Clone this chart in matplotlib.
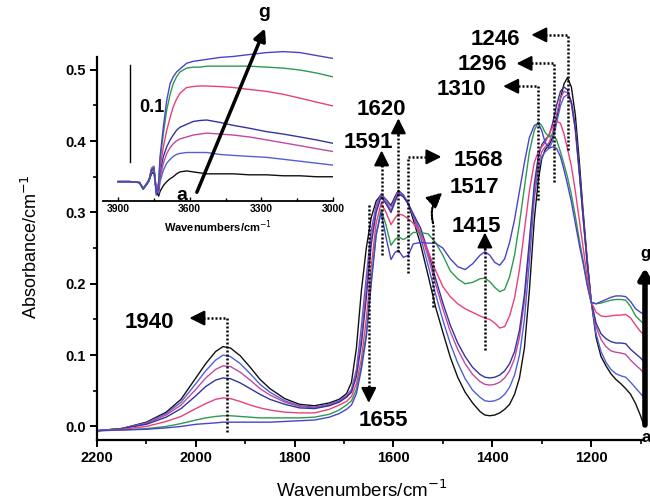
import matplotlib
matplotlib.use('Agg')
import matplotlib.pyplot as plt
from matplotlib.ticker import MultipleLocator, FormatStrFormatter

plt.rcParams['font.family'] = ['Liberation Sans', 'DejaVu Sans']

# ---------------- main spectra data ----------------
wn = [2200, 2150, 2100, 2060, 2030, 2000, 1980, 1960, 1945, 1930,
      1910, 1890, 1870, 1850, 1820, 1790, 1760, 1730, 1710, 1695,
      1685, 1675, 1665, 1655, 1645, 1635, 1625, 1615, 1605, 1597,
      1590, 1580, 1570, 1560, 1545, 1530, 1515, 1500, 1485, 1470,
      1455, 1440, 1425, 1415, 1405, 1395, 1385, 1375, 1365, 1355,
      1345, 1335, 1325, 1315, 1307, 1300, 1293, 1285, 1278, 1270,
      1262, 1255, 1248, 1240, 1232, 1224, 1216, 1208, 1200, 1190,
      1180, 1170, 1160, 1150, 1140, 1130, 1120, 1110, 1100, 1095]

spec_a = [-.006, -.003, .006, .020, .038, .068, .088, .105, .112, .110,
          .099, .083, .066, .053, .039, .031, .029, .033, .038, .046,
          .062, .110, .190, .250, .293, .316, .325, .318, .310, .322,
          .331, .324, .312, .290, .255, .212, .168, .132, .097, .069,
          .048, .033, .021, .016, .015, .016, .019, .024, .031, .045,
          .068, .110, .190, .290, .345, .375, .388, .395, .405, .430,
          .460, .480, .489, .476, .437, .372, .300, .235, .177, .125,
          .098, .085, .074, .066, .060, .053, .045, .032, .015, .005]
spec_b = [-.006, -.003, .005, .018, .034, .060, .078, .093, .100, .098,
          .088, .074, .059, .048, .036, .029, .027, .031, .036, .043,
          .052, .080, .140, .210, .275, .310, .326, .318, .308, .320,
          .330, .325, .313, .295, .265, .226, .186, .149, .116, .089,
          .067, .051, .041, .036, .035, .036, .039, .045, .055, .072,
          .100, .150, .230, .320, .360, .378, .385, .390, .400, .425,
          .450, .462, .465, .455, .420, .360, .295, .230, .176, .130,
          .105, .090, .080, .074, .071, .069, .062, .054, .046, .042]
spec_c = [-.006, -.003, .004, .016, .030, .052, .068, .080, .085, .084,
          .076, .065, .053, .044, .034, .028, .026, .030, .035, .042,
          .050, .075, .125, .195, .265, .305, .324, .315, .303, .318,
          .328, .322, .312, .296, .272, .238, .200, .165, .133, .108,
          .088, .073, .063, .059, .058, .059, .062, .068, .078, .095,
          .125, .175, .250, .330, .368, .385, .392, .398, .412, .438,
          .460, .470, .468, .452, .415, .355, .290, .228, .176, .140,
          .122, .112, .106, .104, .103, .101, .093, .086, .080, .076]
spec_d = [-.006, -.003, .003, .013, .025, .043, .056, .065, .068, .067,
          .061, .053, .045, .038, .031, .026, .025, .029, .034, .041,
          .048, .070, .115, .180, .255, .300, .322, .312, .300, .315,
          .326, .322, .312, .298, .278, .245, .208, .173, .142, .117,
          .098, .083, .073, .069, .068, .069, .072, .078, .088, .105,
          .135, .185, .260, .340, .378, .395, .402, .408, .425, .450,
          .470, .476, .472, .455, .418, .358, .292, .230, .176, .145,
          .130, .123, .119, .117, .117, .116, .108, .102, .096, .092]
spec_e = [-.006, -.004, .000, .007, .014, .025, .032, .038, .040, .039,
          .035, .030, .026, .023, .020, .019, .019, .024, .030, .035,
          .042, .060, .095, .150, .225, .285, .313, .300, .283, .292,
          .298, .296, .291, .285, .270, .246, .219, .196, .182, .172,
          .165, .160, .155, .152, .150, .145, .138, .140, .155, .180,
          .220, .275, .330, .370, .385, .392, .398, .410, .420, .428,
          .425, .410, .390, .365, .330, .290, .250, .210, .175, .160,
          .155, .154, .155, .156, .156, .157, .152, .142, .133, .130]
spec_f = [-.006, -.005, -.003, .000, .004, .009, .012, .014, .015, .015,
          .014, .013, .012, .012, .012, .012, .013, .017, .023, .030,
          .036, .052, .085, .130, .205, .270, .304, .282, .254, .262,
          .266, .262, .266, .272, .272, .270, .258, .240, .218, .207,
          .200, .202, .207, .208, .203, .195, .189, .192, .210, .240,
          .285, .335, .385, .415, .427, .422, .412, .406, .409, .402,
          .385, .368, .350, .325, .295, .262, .232, .200, .174, .172,
          .173, .175, .177, .178, .178, .177, .168, .155, .148, .145]
spec_g = [-.006, -.005, -.004, -.002, .000, .003, .004, .005, .006, .006,
          .006, .006, .006, .006, .007, .008, .009, .013, .018, .024,
          .030, .046, .080, .125, .200, .268, .300, .265, .234, .244,
          .247, .237, .240, .256, .258, .257, .257, .250, .235, .224,
          .220, .228, .240, .245, .240, .230, .226, .235, .258, .290,
          .330, .370, .405, .422, .425, .415, .398, .390, .392, .390,
          .378, .360, .340, .315, .285, .255, .228, .198, .174, .172,
          .175, .178, .181, .183, .183, .182, .175, .165, .160, .158]

# ---------------- inset (OH region) data ----------------
wn_in = [3900, 3850, 3810, 3795, 3780, 3770, 3760, 3750, 3740, 3730,
         3724, 3710, 3696, 3682, 3669, 3655, 3641, 3613, 3585, 3557,
         3529, 3473, 3418, 3350, 3278, 3208, 3138, 3070, 3000]
in_a = [.020, .020, .019, .013, .017, .021, .028, .030, .010, .005,
        .010, .016, .020, .023, .025, .028, .030, .031, .030, .029,
        .028, .028, .028, .027, .027, .026, .026, .025, .025]
in_b = [.020, .020, .019, .012, .018, .022, .030, .033, .012, .008,
        .020, .032, .039, .043, .046, .048, .049, .050, .050, .050,
        .050, .048, .047, .046, .045, .043, .041, .039, .037]
in_c = [.020, .020, .019, .013, .018, .022, .031, .035, .013, .010,
        .024, .039, .049, .055, .059, .062, .064, .066, .068, .069,
        .070, .069, .068, .066, .063, .060, .057, .054, .051]
in_d = [.020, .020, .019, .012, .017, .021, .032, .034, .010, .012,
        .030, .046, .056, .063, .068, .073, .076, .079, .082, .083,
        .0835, .081, .078, .075, .0715, .069, .066, .063, .0595]
in_e = [.020, .020, .019, .013, .018, .022, .034, .036, .009, .015,
        .035, .056, .073, .086, .097, .105, .111, .117, .118, .1186,
        .1185, .118, .117, .115, .113, .110, .106, .102, .098]
in_f = [.020, .020, .019, .012, .017, .021, .033, .035, .008, .018,
        .042, .070, .094, .110, .121, .128, .133, .137, .138, .138,
        .139, .139, .139, .139, .138, .137, .135, .132, .128]
in_g = [.020, .020, .019, .013, .018, .022, .032, .034, .006, .020,
        .046, .077, .104, .121, .128, .133, .136, .142, .144, .145,
        .146, .148, .149, .151, .153, .154, .153, .150, .147]

colors = ['#111111', '#5060d8', '#c04aa0', '#34349e', '#e8407c', '#2e9a50', '#4a44c8']
main_specs = [spec_a, spec_b, spec_c, spec_d, spec_e, spec_f, spec_g]
inset_specs = [in_a, in_b, in_c, in_d, in_e, in_f, in_g]

W, H = 650, 504
fig = plt.figure(figsize=(6.5, 5.04), dpi=100)
ax = fig.add_axes([97 / W, 64 / H, 547 / W, 383 / H])

for s, c in zip(main_specs, colors):
    ax.plot(wn, s, color=c, lw=1.0)

ax.set_xlim(2200, 1093)
ax.set_ylim(-0.019, 0.518)
for sp in ['top', 'right']:
    ax.spines[sp].set_visible(False)
for sp in ['left', 'bottom']:
    ax.spines[sp].set_linewidth(1.6)
ax.xaxis.set_major_locator(MultipleLocator(200))
ax.xaxis.set_minor_locator(MultipleLocator(100))
ax.yaxis.set_major_locator(MultipleLocator(0.1))
ax.yaxis.set_minor_locator(MultipleLocator(0.05))
ax.yaxis.set_major_formatter(FormatStrFormatter('%.1f'))
ax.tick_params(which='major', direction='out', length=5, width=1.4, labelsize=10.5, pad=3)
ax.tick_params(which='minor', direction='out', length=3, width=1.2)
for lab in ax.get_xticklabels() + ax.get_yticklabels():
    lab.set_fontweight('bold')

fig.text(31 / W, 1 - 247 / H, 'Absorbance/cm$^{-1}$', rotation=90, ha='center', va='center', fontsize=13)
fig.text(362 / W, 1 - 490 / H, 'Wavenumbers/cm$^{-1}$', ha='center', va='center', fontsize=13.5)

# ---------------- annotations ----------------
DOT = dict(color='k', lw=1.8, ls=(0, (0.8, 0.8)), clip_on=False)
FS = 16


def head(axis, x0, y0, x1, y1, ms=13):
    axis.annotate('', xy=(x1, y1), xytext=(x0, y0),
                  arrowprops=dict(arrowstyle='-|>,head_length=0.7,head_width=0.35',
                                  color='k', lw=1.5, shrinkA=0, shrinkB=0, mutation_scale=ms),
                  annotation_clip=False)


def label(axis, x, y, t, fs=FS):
    axis.text(x, y, t, ha='center', va='center', fontsize=fs, fontweight='bold', clip_on=False)

# 1940
ax.plot([1937, 1937, 2000], [-0.008, 0.152, 0.152], **DOT)
head(ax, 1995, 0.152, 2013, 0.152)
label(ax, 2093, 0.146, '1940')
# 1655
ax.plot([1650, 1650], [0.31, 0.052], **DOT)
head(ax, 1650, 0.055, 1650, 0.033)
label(ax, 1621, 0.008, '1655')
# 1591 (arrow at ~1624)
ax.plot([1624, 1624], [0.24, 0.37], **DOT)
head(ax, 1624, 0.365, 1624, 0.387)
label(ax, 1650, 0.398, '1591')
# 1620 (arrow at ~1590)
ax.plot([1590, 1590], [0.245, 0.41], **DOT)
head(ax, 1590, 0.408, 1590, 0.432)
label(ax, 1625, 0.444, '1620')
# 1568
ax.plot([1570, 1570, 1520], [0.215, 0.378, 0.378], **DOT)
head(ax, 1522, 0.378, 1503, 0.378)
label(ax, 1429, 0.373, '1568')
# 1517 (curved)
ax.plot([1520, 1520], [0.168, 0.285], **DOT)
ax.annotate('', xy=(1501, 0.328), xytext=(1520, 0.285),
            arrowprops=dict(arrowstyle='-|>,head_length=0.7,head_width=0.35', color='k', lw=1.6,
                            ls=(0, (0.8, 0.8)), shrinkA=0, shrinkB=0, mutation_scale=13,
                            connectionstyle='arc3,rad=-0.3'),
            annotation_clip=False)
label(ax, 1436, 0.335, '1517')
# 1415
ax.plot([1415, 1415], [0.107, 0.250], **DOT)
head(ax, 1415, 0.248, 1415, 0.272)
label(ax, 1433, 0.281, '1415')
# 1310
ax.plot([1307, 1307, 1362], [0.318, 0.477, 0.477], **DOT)
head(ax, 1360, 0.477, 1378, 0.477)
label(ax, 1463, 0.472, '1310')
# 1296
ax.plot([1275, 1275, 1335], [0.343, 0.509, 0.509], **DOT)
head(ax, 1333, 0.509, 1351, 0.509)
label(ax, 1421, 0.507, '1296')
# 1246
ax.plot([1246, 1246, 1305], [0.388, 0.549, 0.549], **DOT)
head(ax, 1303, 0.549, 1321, 0.549)
label(ax, 1394, 0.543, '1246')

# a -> g arrow at right edge
ax.annotate('', xy=(1091, 0.222), xytext=(1091, 0.002),
            arrowprops=dict(arrowstyle='-|>,head_length=0.5,head_width=0.3', color='k', lw=4,
                            shrinkA=0, shrinkB=0, mutation_scale=12),
            annotation_clip=False)
ax.text(1091, 0.232, 'g', ha='center', va='bottom', fontsize=12, fontweight='bold', clip_on=False)
ax.text(1088, -0.016, 'a', ha='center', va='center', fontsize=12, fontweight='bold', clip_on=False)

# ---------------- inset ----------------
ins = fig.add_axes([103 / W, (H - 201) / H, 230 / W, 181 / H])
ins.patch.set_alpha(0)
for s, c in zip(inset_specs, colors):
    ins.plot(wn_in, s, color=c, lw=1.0)
ins.set_xlim(3963, 3000)
ins.set_ylim(0, 0.1866)
for sp in ['top', 'right', 'left']:
    ins.spines[sp].set_visible(False)
ins.spines['bottom'].set_linewidth(1.3)
ins.set_yticks([])
ins.set_xticks([3900, 3600, 3300, 3000])
ins.xaxis.set_minor_locator(MultipleLocator(150))
ins.tick_params(which='major', direction='in', length=3, width=1, labelsize=7.5, pad=2)
ins.tick_params(which='minor', direction='in', length=2, width=1)
for lab in ins.get_xticklabels():
    lab.set_fontweight('bold')
ins.set_xlabel('Wavenumbers/cm$^{-1}$', fontsize=8, fontweight='bold', labelpad=3)

# scale bar
ins.plot([3850, 3850], [0.040, 0.140], color='k', lw=1.0)
ins.text(3758, 0.096, '0.1', ha='center', va='center', fontsize=13, fontweight='bold')
# a -> g arrow
ins.annotate('', xy=(3285, 0.178), xytext=(3570, 0.009),
             arrowprops=dict(arrowstyle='-|>,head_length=0.6,head_width=0.3', color='k', lw=2.5,
                             shrinkA=0, shrinkB=0, mutation_scale=12),
             annotation_clip=False)
ins.text(3290, 0.186, 'g', ha='center', va='bottom', fontsize=14, fontweight='bold', clip_on=False)
ins.text(3632, 0.006, 'a', ha='center', va='center', fontsize=14, fontweight='bold', clip_on=False)

fig.savefig('out.png', dpi=100)
